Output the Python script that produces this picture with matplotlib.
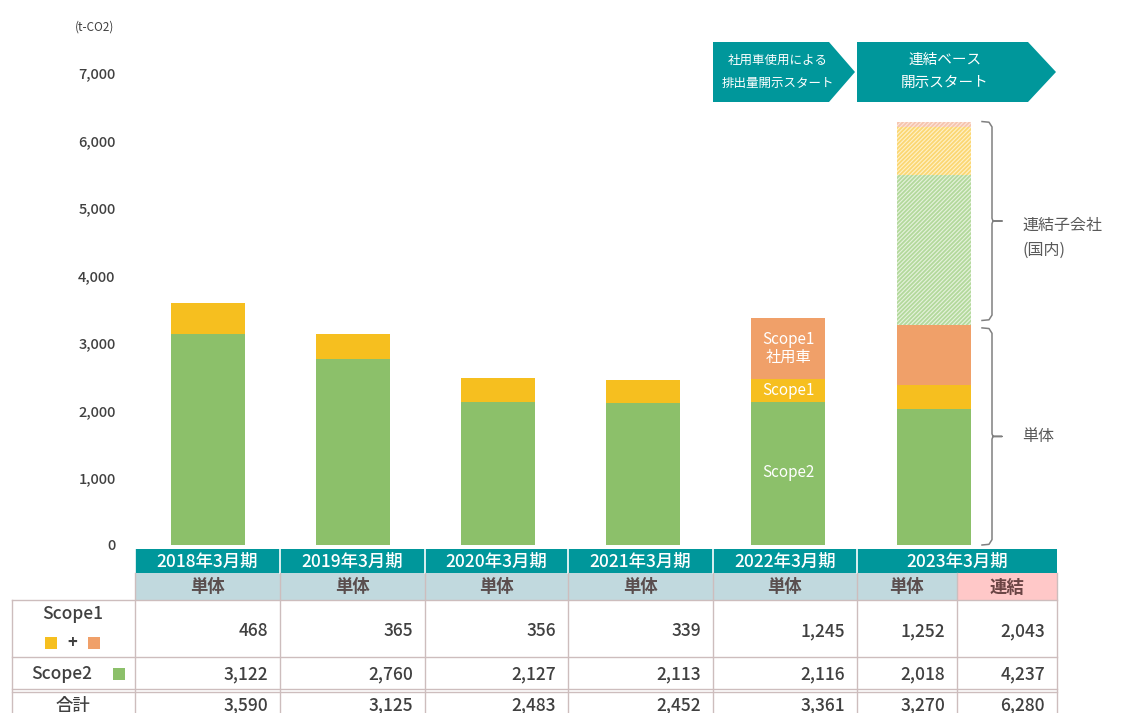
import numpy as np
import matplotlib
matplotlib.use('Agg')
import matplotlib.pyplot as plt
from matplotlib.patches import Polygon, Rectangle
from matplotlib.transforms import blended_transform_factory

plt.rcParams['font.family'] = ['Noto Sans CJK JP', 'DejaVu Sans']

# data
years = ['2018年3月期', '2019年3月期', '2020年3月期', '2021年3月期', '2022年3月期', '2023年3月期']
scope2_tantai = [3122, 2760, 2127, 2113, 2116, 2018]
scope1_fuel = [468, 365, 356, 339, 350, 360]
scope1_car = [0, 0, 0, 0, 895, 892]
subs_scope2 = 2219
subs_scope1_fuel = 716
subs_scope1_car = 75

sub_labels = ['単体', '単体', '単体', '単体', '単体', '単体', '連結']
tbl_scope1 = [468, 365, 356, 339, 1245, 1252, 2043]
tbl_scope2 = [3122, 2760, 2127, 2113, 2116, 2018, 4237]
tbl_total = [3590, 3125, 2483, 2452, 3361, 3270, 6280]

green = '#8CC06A'
yellow = '#F6BF1F'
orange = '#F0A069'
teal = '#00979B'
txt = '#404040'
grid_c = '#CDBDBD'

W, H = 1124, 713
fig = plt.figure(figsize=(W / 100, H / 100), dpi=100)

# pixel overlay for table / banners / braces
ov = fig.add_axes([0, 0, 1, 1])
ov.set_xlim(0, W)
ov.set_ylim(H, 0)
ov.axis('off')

ax = fig.add_axes([135 / W, (H - 545) / H, (1057 - 135) / W, 472 / H])
ax.patch.set_alpha(0)
ax.set_xlim(-0.5, 5.85)
ax.set_ylim(0, 7000)
for s in ax.spines.values():
    s.set_visible(False)
ax.set_xticks([])
ax.set_yticks(range(0, 7001, 1000))
ax.set_yticklabels([f'{v:,}' for v in range(0, 7001, 1000)], fontsize=10.5,
                   color=txt, fontweight='medium')
ax.tick_params(length=0, pad=14)

x = np.arange(len(years))
bw = 0.51
ax.bar(x, scope2_tantai, width=bw, color=green, linewidth=0)
b1 = np.array(scope2_tantai)
ax.bar(x, scope1_fuel, bottom=b1, width=bw, color=yellow, linewidth=0)
b2 = b1 + np.array(scope1_fuel)
ax.bar(x, scope1_car, bottom=b2, width=bw, color=orange, linewidth=0)
b3 = b2 + np.array(scope1_car)

# consolidated subsidiaries (hatched)
plt.rcParams['hatch.linewidth'] = 1.3
ax.bar(5, subs_scope2, bottom=b3[5], width=bw, color='#E6F2DD', edgecolor='#B3D99C',
       hatch='////////', linewidth=0)
ax.bar(5, subs_scope1_fuel, bottom=b3[5] + subs_scope2, width=bw, color='#FFF1C8',
       edgecolor='#FBD773', hatch='////////', linewidth=0)
ax.bar(5, subs_scope1_car, bottom=b3[5] + subs_scope2 + subs_scope1_fuel, width=bw,
       color='#FDE6DA', edgecolor='#F6C4AE', hatch='////////', linewidth=0)

# labels inside 2022 bar
ax.text(4, b2[4] + scope1_car[4] / 2, 'Scope1\n社用車', color='white', ha='center',
        va='center', fontsize=11, linespacing=1.1)
ax.text(4, b1[4] + scope1_fuel[4] / 2, 'Scope1', color='white', ha='center',
        va='center', fontsize=11)
ax.text(4, 1070, 'Scope2', color='white', ha='center', va='center', fontsize=11)

ov.text(75, 27, '(t-CO2)', fontsize=8.5, color=txt, va='center')

# braces
bt = blended_transform_factory(ov.transData, ax.transData)
def brace(y0, y1):
    xs, xe = 982, 992
    ym = (y0 + y1) / 2
    r = 80
    pts_x = [xs, xe - 3, xe, xe, xe + 1, xe + 10, xe + 1, xe, xe, xe - 3, xs]
    pts_y = [y1, y1 - 10, y1 - r, ym + 40, ym, ym, ym, ym - 40, y0 + r, y0 + 10, y0]
    ax.plot(pts_x, pts_y, transform=bt, color='#808080', lw=1.1, clip_on=False)

brace(3330, 6280)
ov.text(1022, 225, '連結子会社', fontsize=11.5, color='#595959', va='center')
ov.text(1022, 250, '(国内)', fontsize=11.5, color='#595959', va='center')
brace(0, 3220)
ov.text(1022, 437, '単体', fontsize=11.5, color='#595959', va='center')

# banners
ov.add_patch(Polygon([(713, 42), (829, 42), (855, 72), (829, 102), (713, 102)],
                     closed=True, color=teal, lw=0))
ov.add_patch(Polygon([(857, 42), (1028, 42), (1056, 72), (1028, 102), (857, 102)],
                     closed=True, color=teal, lw=0))
ov.text(778, 60, '社用車使用による', color='white', fontsize=9, ha='center', va='center')
ov.text(778, 83, '排出量開示スタート', color='white', fontsize=9, ha='center', va='center')
ov.text(945, 60, '連結ベース', color='white', fontsize=10.5, ha='center', va='center')
ov.text(945, 83, '開示スタート', color='white', fontsize=10.5, ha='center', va='center')

# table
cols = [135, 280, 425, 568, 713, 857, 957, 1057]
r_head, r_sub, r_s1, r_s2, r_tot = 549, 573, 600, 657, 689
for i, yl in enumerate(years):
    x0 = cols[i]
    x1 = cols[i + 1] if i < 5 else cols[7]
    ov.add_patch(Rectangle((x0, r_head), x1 - x0, r_sub - r_head, color=teal, lw=0))
    ov.plot([x0, x0], [r_head, r_sub], color='white', lw=1.2)
    ov.text((x0 + x1) / 2, (r_head + r_sub) / 2 + 1, yl, color='white', fontsize=12.5,
            ha='center', va='center', fontweight='medium')
for i, lab in enumerate(sub_labels):
    x0, x1 = cols[i], cols[i + 1]
    fc = '#FFC8C8' if lab == '連結' else '#C1D9DE'
    tc = '#6A4444' if lab == '連結' else '#5A4E4E'
    ov.add_patch(Rectangle((x0, r_sub), x1 - x0, r_s1 - r_sub, color=fc, lw=0))
    ov.text((x0 + x1) / 2, (r_sub + r_s1) / 2 + 1, lab, color=tc, fontsize=12.5,
            ha='center', va='center', fontweight='bold')
for c in cols:
    ov.plot([c, c], [r_sub, H], color=grid_c, lw=1)
ov.plot([12, 12], [r_s1, H], color=grid_c, lw=1)
for yy in [r_s1, r_s2, r_tot, r_tot + 3]:
    ov.plot([12, cols[-1]], [yy, yy], color=grid_c, lw=1)

for i in range(7):
    xr = cols[i + 1] - 12
    ov.text(xr, 631, f'{tbl_scope1[i]:,}', ha='right', va='center', fontsize=12.5,
            color=txt, fontweight='medium')
    ov.text(xr, 674, f'{tbl_scope2[i]:,}', ha='right', va='center', fontsize=12.5,
            color=txt, fontweight='medium')
    ov.text(xr, 705, f'{tbl_total[i]:,}', ha='right', va='center', fontsize=12.5,
            color=txt, fontweight='medium')

ov.text(73, 614, 'Scope1', ha='center', va='center', fontsize=12.5, color=txt,
        fontweight='medium')
ov.add_patch(Rectangle((45, 637), 12, 12, color=yellow, lw=0))
ov.text(72, 643, '+', ha='center', va='center', fontsize=12, color=txt, fontweight='bold')
ov.add_patch(Rectangle((88, 637), 12, 12, color=orange, lw=0))
ov.text(62, 674, 'Scope2', ha='center', va='center', fontsize=12.5, color=txt,
        fontweight='medium')
ov.add_patch(Rectangle((113, 668), 12, 12, color=green, lw=0))
ov.text(73, 706, '合計', ha='center', va='center', fontsize=12.5, color=txt,
        fontweight='medium')

fig.savefig('out.png', dpi=100)
